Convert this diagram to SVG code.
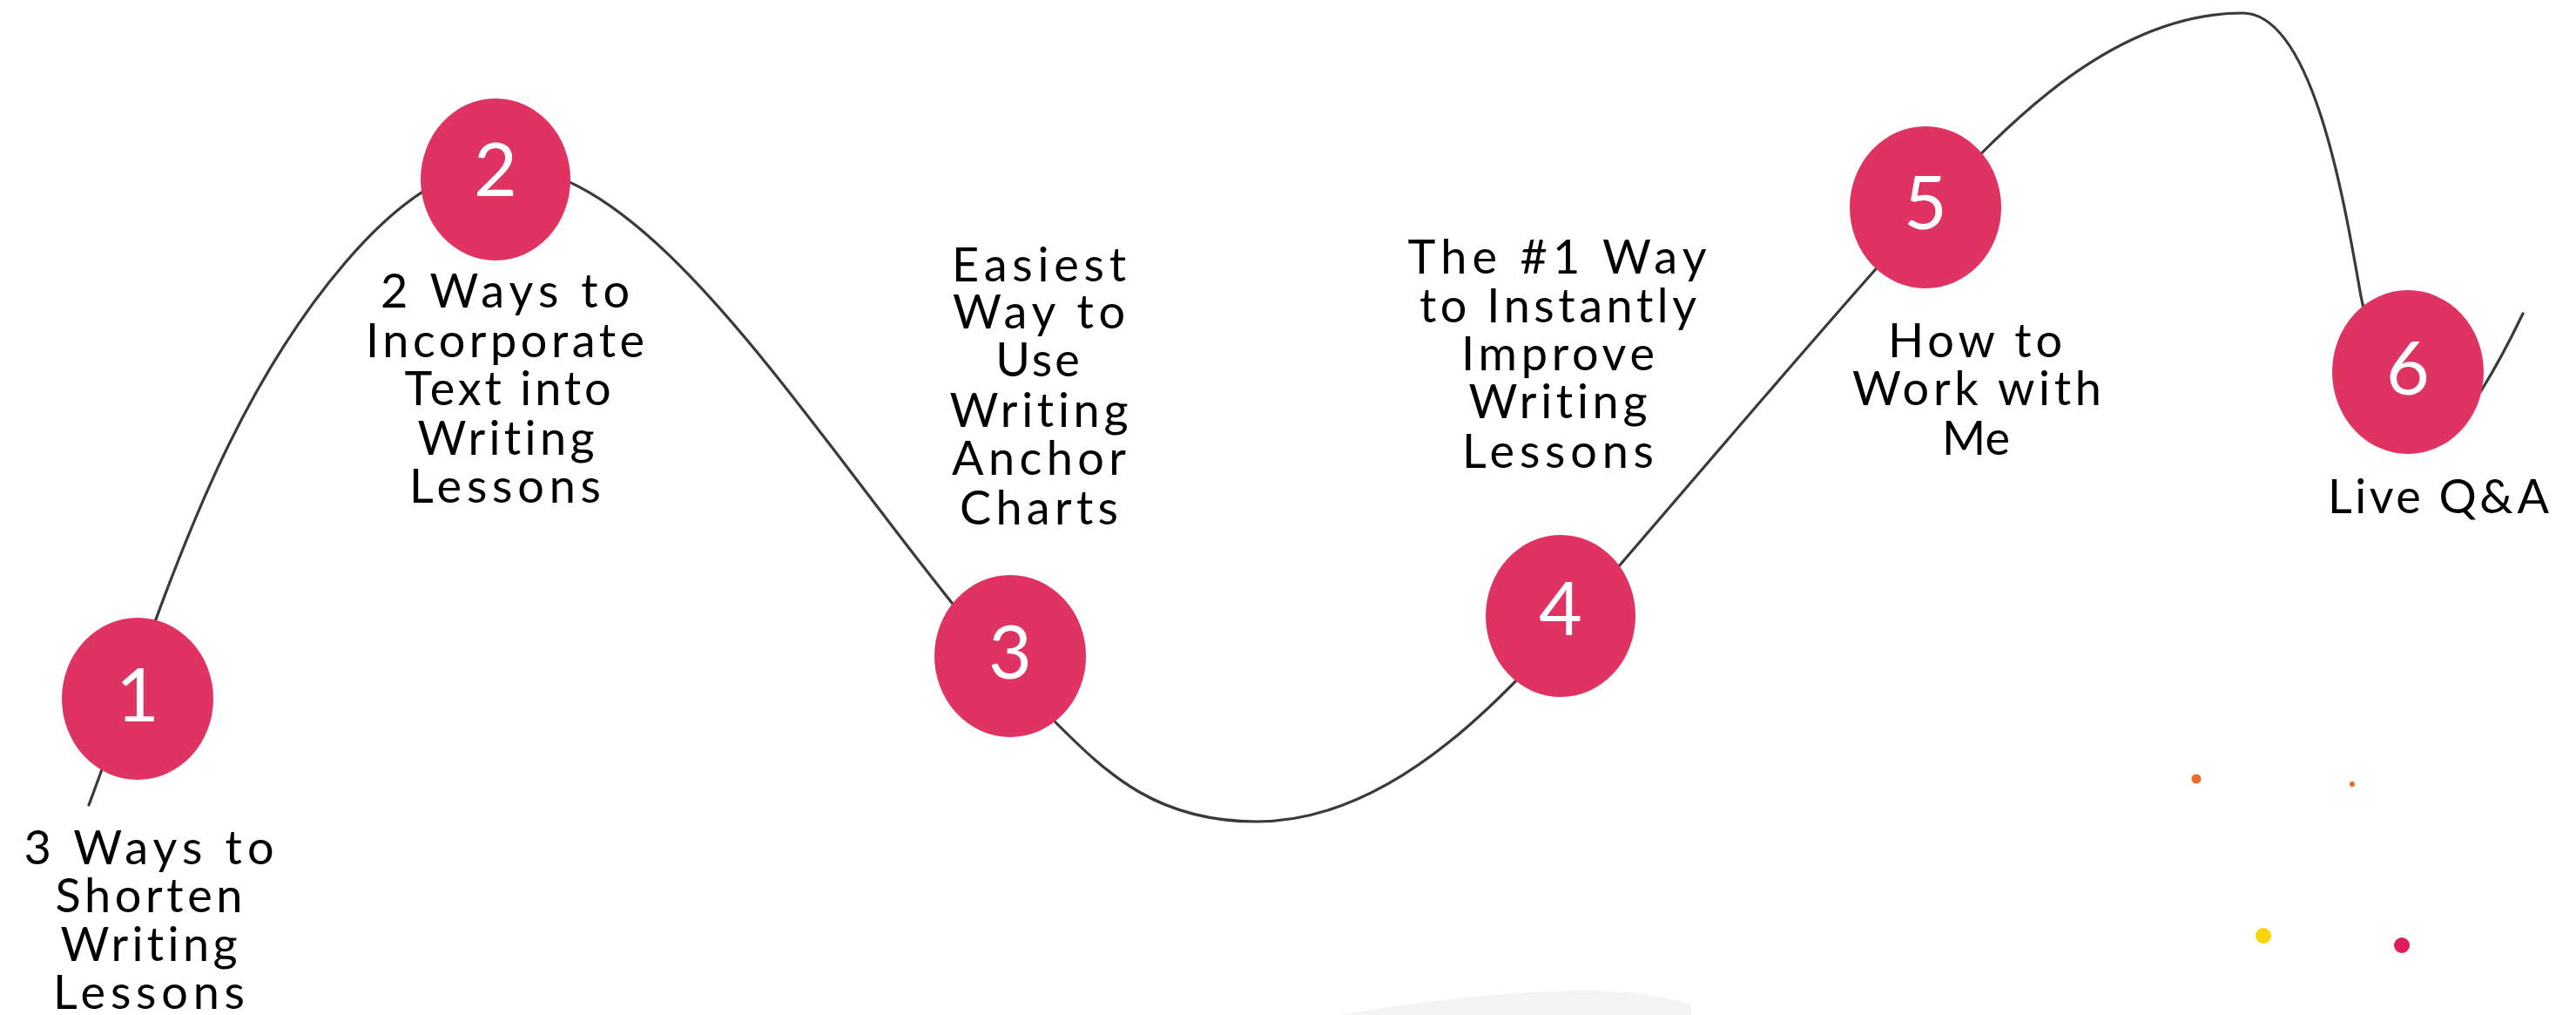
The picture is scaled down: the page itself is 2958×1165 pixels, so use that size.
<svg xmlns="http://www.w3.org/2000/svg" width="2958" height="1165" viewBox="0 0 2958 1165">
<style>
.lbl{font-family:Lato,"Noto Sans","Liberation Sans",sans-serif;font-size:54px;fill:#000;text-anchor:middle;font-variant-ligatures:none;font-feature-settings:"liga" 0}
.num{font-family:Lato,"Noto Sans","Liberation Sans",sans-serif;font-size:86px;fill:#fff;text-anchor:middle}
.node ellipse{fill:#df3361}
.curve{fill:none;stroke:#3a3a3a;stroke-width:3.2;stroke-linecap:round}
</style>
<rect width="2958" height="1165" fill="#fff"/>
<path d="M1538,1165 C1640,1148 1750,1136 1830,1137 C1880,1138 1915,1145 1942,1153 L1942,1165 Z" fill="#f4f4f4"/>
<g id="decor-dots">
<circle cx="2522" cy="894" r="5.5" fill="#f06a25"/>
<circle cx="2701" cy="900" r="3" fill="#f06a25"/>
<circle cx="2599" cy="1074" r="9" fill="#fbd50a"/>
<circle cx="2758" cy="1085" r="9" fill="#e01d5a"/>
</g>
<g id="connectors">
<path class="curve" d="M102,924 C182,710 247,476 396,302 C442,248 505,190 576,190 C776,190 982,592 1213,830 C1273,890 1330,943 1443,943 C1612,943 1747,779 1858,651 C1959,534 2058,417 2160,302 C2271,176 2407,15 2575,15 C2655,15 2691,225 2711,340 C2721,399 2800,520 2850,447 C2870,415 2885,385 2897,360"/>
</g>
<g id="node1" class="node">
<ellipse cx="158" cy="802" rx="87" ry="93"/>
<text class="num" x="158" y="828">1</text>
<text class="lbl" x="171" y="992" textLength="287" lengthAdjust="spacing">3 Ways to</text>
<text class="lbl" x="171" y="1047" textLength="215" lengthAdjust="spacing">Shorten</text>
<text class="lbl" x="171" y="1103" textLength="203" lengthAdjust="spacing">Writing</text>
<text class="lbl" x="171" y="1158" textLength="220" lengthAdjust="spacing">Lessons</text>
</g>
<g id="node2" class="node">
<ellipse cx="569" cy="206" rx="86" ry="93"/>
<text class="num" x="569" y="225">2</text>
<text class="lbl" x="580" y="353" textLength="286" lengthAdjust="spacing">2 Ways to</text>
<text class="lbl" x="580" y="410" textLength="320" lengthAdjust="spacing">Incorporate</text>
<text class="lbl" x="583" y="465" textLength="237" lengthAdjust="spacing">Text into</text>
<text class="lbl" x="581" y="522" textLength="203" lengthAdjust="spacing">Writing</text>
<text class="lbl" x="580" y="577" textLength="220" lengthAdjust="spacing">Lessons</text>
</g>
<g id="node3" class="node">
<ellipse cx="1160" cy="753" rx="87" ry="93"/>
<text class="num" x="1160" y="779">3</text>
<text class="lbl" x="1193" y="323" textLength="200" lengthAdjust="spacing">Easiest</text>
<text class="lbl" x="1193" y="377" textLength="198" lengthAdjust="spacing">Way to</text>
<text class="lbl" x="1193" y="432" letter-spacing="3">Use</text>
<text class="lbl" x="1193" y="490" textLength="205" lengthAdjust="spacing">Writing</text>
<text class="lbl" x="1193" y="545" textLength="200" lengthAdjust="spacing">Anchor</text>
<text class="lbl" x="1193" y="602" textLength="182" lengthAdjust="spacing">Charts</text>
</g>
<g id="node4" class="node">
<ellipse cx="1792" cy="707" rx="86" ry="93"/>
<text class="num" x="1792" y="729">4</text>
<text class="lbl" x="1788" y="314" textLength="343" lengthAdjust="spacing">The #1 Way</text>
<text class="lbl" x="1789" y="370" textLength="318" lengthAdjust="spacing">to Instantly</text>
<text class="lbl" x="1789" y="425" textLength="222" lengthAdjust="spacing">Improve</text>
<text class="lbl" x="1789" y="480" textLength="205" lengthAdjust="spacing">Writing</text>
<text class="lbl" x="1789" y="537" textLength="220" lengthAdjust="spacing">Lessons</text>
</g>
<g id="node5" class="node">
<ellipse cx="2211" cy="238" rx="87" ry="93"/>
<text class="num" x="2211" y="263">5</text>
<text class="lbl" x="2268" y="410" textLength="200" lengthAdjust="spacing">How to</text>
<text class="lbl" x="2270" y="465" textLength="286" lengthAdjust="spacing">Work with</text>
<text class="lbl" x="2269" y="522">Me</text>
</g>
<g id="node6" class="node">
<ellipse cx="2765" cy="427" rx="87" ry="94"/>
<text class="num" x="2765" y="453">6</text>
<text class="lbl" x="2800" y="589" textLength="254" lengthAdjust="spacing">Live Q&amp;A</text>
</g>
</svg>
